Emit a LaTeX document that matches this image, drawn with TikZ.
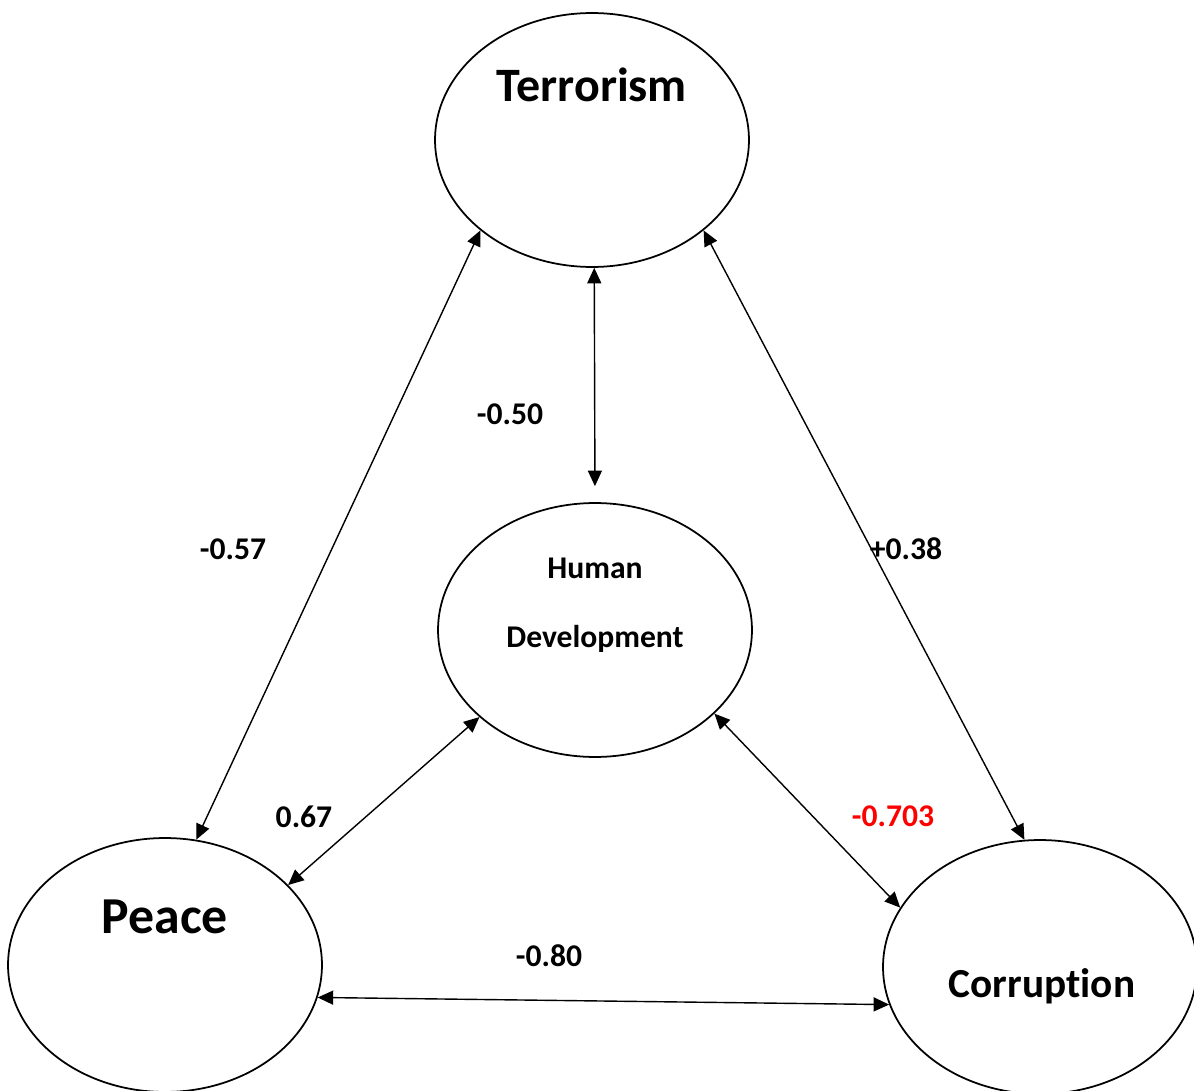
\documentclass[tikz,border=0pt]{standalone}
\usepackage{fontspec}
\setmainfont[Ligatures=NoCommon]{Carlito}
\usetikzlibrary{shapes.geometric, arrows.meta}

\begin{document}
\begin{tikzpicture}[x=0.02cm, y=-0.02cm,
        blob/.style={ellipse, draw, line width=1pt, minimum width=6.28cm, minimum height=5.08cm, inner sep=0pt},
        coef/.style={font=\fontsize{18}{20}\selectfont\bfseries, anchor=base},
        link/.style={line width=0.8pt, {Triangle[length=0.31cm, width=0.28cm]}-{Triangle[length=0.31cm, width=0.28cm]}}]
    \useasboundingbox (0,0) rectangle (1194,1091);

    % the four constructs
    \node [blob] (ter) at (592,140) {};
    \node [blob] (hd) at (595,630) {};
    \node [blob] (peace) at (165,965) {};
    \node [blob] (corr) at (1040,967) {};

    \node [font=\fontsize{27.3}{30}\selectfont\bfseries, anchor=base] (terlbl) at (592,102) {Terrorism};
    \node [coef] (hdlbla) at (595,578) {Human};
    \node [coef] (hdlblb) at (595,647) {Development};
    \node [font=\fontsize{29.5}{32}\selectfont\bfseries, anchor=base] (peacelbl) at (165,933) {Peace};
    \node [font=\fontsize{23.5}{28}\selectfont\bfseries, anchor=base] (corrlbl) at (1042,997) {Corruption};

    % correlations
    \draw [link] (ter.219) -- (peace.76);
    \draw [link, shorten >=0.32cm] (ter.271) -- (hd.north);
    \draw [link] (ter.321) -- (corr.97);
    \draw [link] (hd.217) -- (peace.33);
    \draw [link] (hd.325) -- (corr.157);
    \draw [link] (peace.348) -- (corr.194);

    \node [coef] (rth) at (510,424) {-0.50};
    \node [coef] (rtp) at (233,559) {-0.57};
    \node [coef] (rtc) at (906,559) {+0.38};
    \node [coef] (rhp) at (304,827) {0.67};
    \node [coef, text=red] (rhc) at (893,826) {-0.703};
    \node [coef] (rpc) at (549,966) {-0.80};
\end{tikzpicture}
\end{document}
